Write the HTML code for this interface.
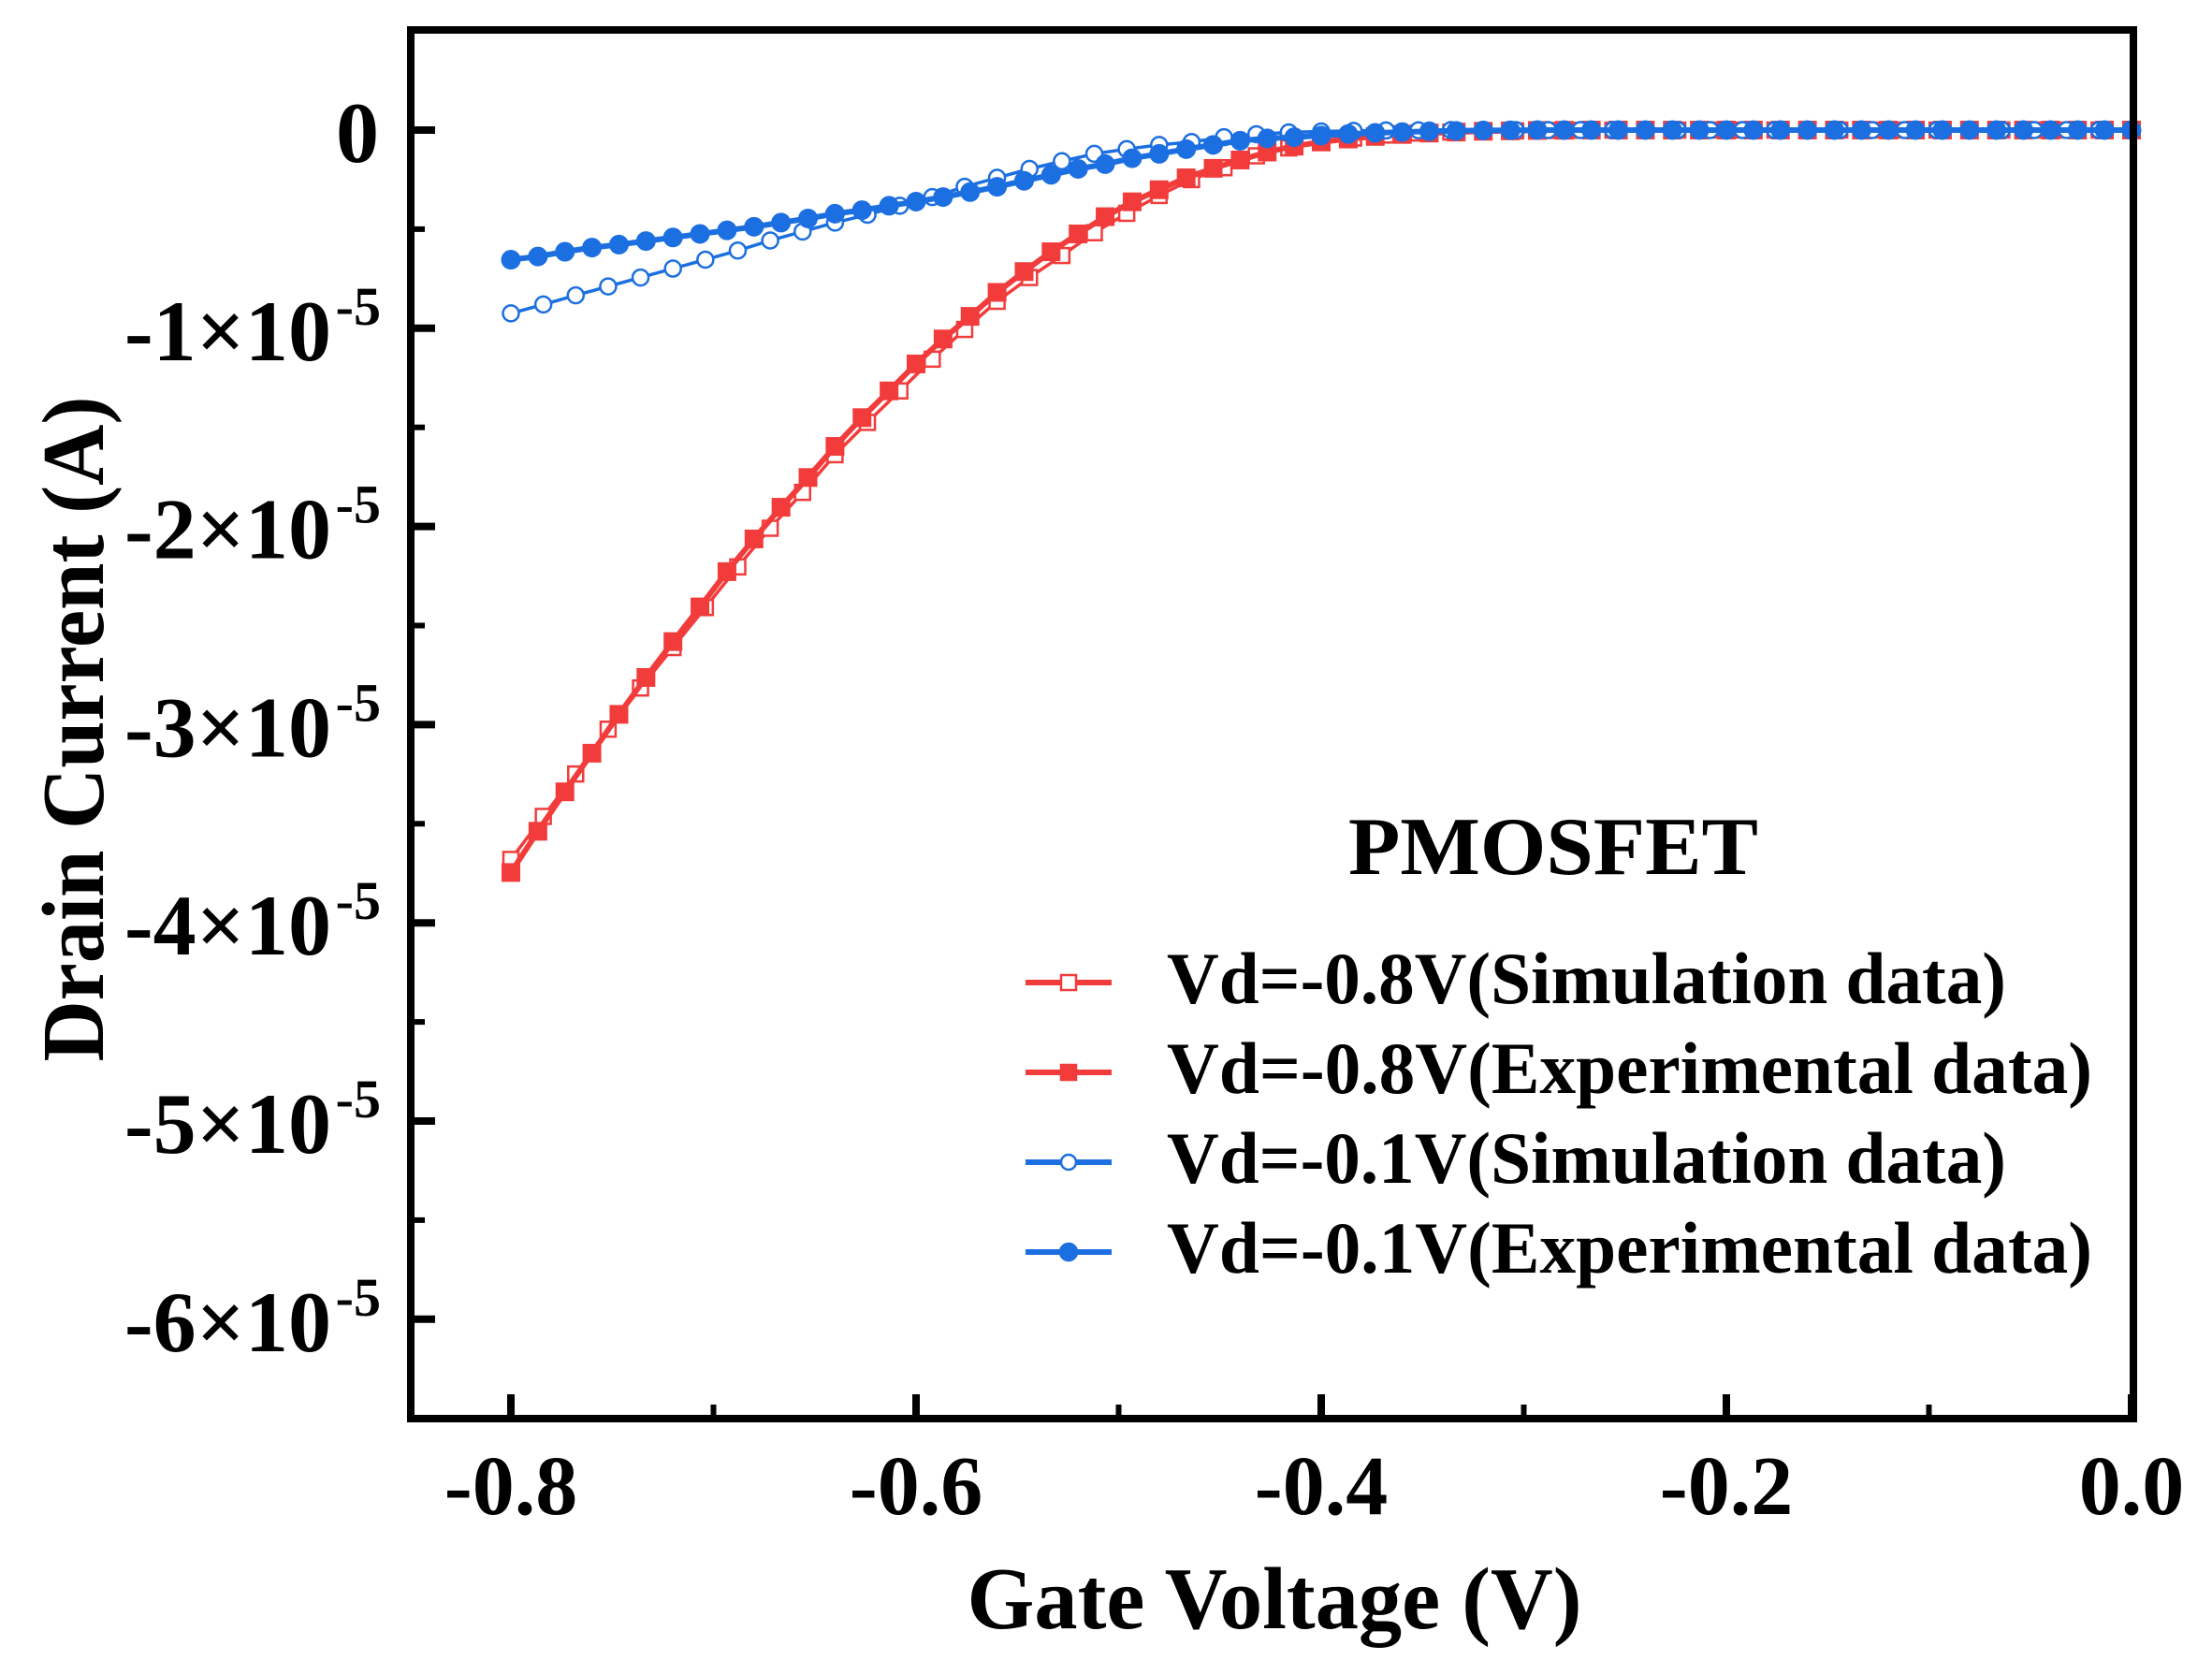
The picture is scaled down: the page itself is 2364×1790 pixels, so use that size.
<!DOCTYPE html>
<html><head><meta charset="utf-8"><style>
html,body{margin:0;padding:0;background:#fff;}
svg{display:block;font-family:"Liberation Serif",serif;font-weight:bold;}
</style></head><body>
<svg id="chart" width="2364" height="1790" viewBox="0 0 2364 1790" xmlns="http://www.w3.org/2000/svg"></svg>
<script>
// ---- data ----
const expStart = -0.8, expStep = 0.8 / 60;
const simStart = -0.8, simStep = 0.016;
const redExp = [-3.746,-3.538,-3.339,-3.144,-2.948,-2.762,-2.581,-2.406,-2.228,-2.063,-1.903,-1.753,-1.596,-1.451,-1.316,-1.180,-1.054,-0.940,-0.819,-0.714,-0.614,-0.524,-0.437,-0.362,-0.301,-0.241,-0.193,-0.151,-0.111,-0.081,-0.060,-0.045,-0.032,-0.022,-0.015,-0.010,-0.006,-0.004,-0.002,-0.001,0,0,0,0,0,0,0,0,0,0,0,0,0,0,0,0,0,0,0,0,0];
const redSim = [-3.68,-3.463,-3.249,-3.023,-2.815,-2.611,-2.409,-2.204,-2.009,-1.828,-1.638,-1.475,-1.316,-1.156,-1.006,-0.864,-0.744,-0.633,-0.518,-0.42,-0.33,-0.25,-0.19,-0.13,-0.09,-0.06,-0.04,-0.025,-0.015,-0.01,-0.006,-0.004,-0.002,-0.001,0,0,0,0,0,0,0,0,0,0,0,0,0,0,0,0,0];
const blueExp = [-0.654,-0.638,-0.614,-0.593,-0.578,-0.560,-0.542,-0.524,-0.506,-0.488,-0.467,-0.446,-0.422,-0.404,-0.382,-0.361,-0.338,-0.313,-0.286,-0.256,-0.226,-0.196,-0.172,-0.142,-0.120,-0.096,-0.075,-0.054,-0.042,-0.036,-0.028,-0.020,-0.014,-0.010,-0.006,-0.004,-0.002,-0.001,0,0,0,0,0,0,0,0,0,0,0,0,0,0,0,0,0,0,0,0,0,0,0];
const blueSim = [-0.925,-0.880,-0.834,-0.789,-0.744,-0.699,-0.654,-0.608,-0.557,-0.512,-0.467,-0.427,-0.382,-0.338,-0.286,-0.241,-0.196,-0.157,-0.120,-0.096,-0.075,-0.060,-0.036,-0.021,-0.012,-0.007,-0.004,-0.002,-0.001,0,0,0,0,0,0,0,0,0,0,0,0,0,0,0,0,0,0,0,0,0,0];
const xTicks = [-0.8,-0.6,-0.4,-0.2,0.0];
const xTickLabels = ["-0.8","-0.6","-0.4","-0.2","0.0"];
const xMinor = [-0.7,-0.5,-0.3,-0.1];
const yTicks = [0,-1,-2,-3,-4,-5,-6];
const yTickMant = ["0","-1×10","-2×10","-3×10","-4×10","-5×10","-6×10"];
const yMinor = [-0.5,-1.5,-2.5,-3.5,-4.5,-5.5];
const legendLabels = ["Vd=-0.8V(Simulation data)","Vd=-0.8V(Experimental data)","Vd=-0.1V(Simulation data)","Vd=-0.1V(Experimental data)"];

const RED = "#f23c3c", BLUE = "#1c6fe0";
const L = 439, R = 2280, T = 32, B = 1516;
const X = v => 2278 + v * 2165;
const Y = v => 139 - v * 211.8;
const NS = "http://www.w3.org/2000/svg";
const svg = document.getElementById('chart');
function mk(tag, attrs, parent) {
  const e = document.createElementNS(NS, tag);
  for (const k in attrs) e.setAttribute(k, attrs[k]);
  (parent || svg).appendChild(e);
  return e;
}

function series(vals, start, step, color, lw, marker, filled, name) {
  const g = mk('g', {});
  
  
  const pts = vals.map((v, i) => X(start + i * step).toFixed(1) + ',' + Y(v).toFixed(1)).join(' ');
  const pl = mk('polyline', {points: pts, fill: 'none', stroke: color, 'stroke-width': lw, 'stroke-linejoin': 'round'}, g);
  
  
  vals.forEach((v, i) => {
    const cx = X(start + i * step), cy = Y(v);
    let m;
    if (marker === 'circle') {
      m = mk('circle', {cx: cx, cy: cy, r: filled ? 10 : 8.5, fill: filled ? color : '#fff', stroke: color, 'stroke-width': filled ? 1 : 2.5}, g);
    } else {
      const s = filled ? 19 : 16;
      m = mk('rect', {x: cx - s/2, y: cy - s/2, width: s, height: s, fill: filled ? color : '#fff', stroke: color, 'stroke-width': filled ? 1 : 2.5}, g);
    }
    
    
  });
}
series(redSim, simStart, simStep, RED, 3.5, 'square', false, 'series-red-simulation');
series(redExp, expStart, expStep, RED, 6, 'square', true, 'series-red-experimental');
series(blueSim, simStart, simStep, BLUE, 3.5, 'circle', false, 'series-blue-simulation');
series(blueExp, expStart, expStep, BLUE, 6, 'circle', true, 'series-blue-experimental');

const fr = mk('rect', {x: L, y: T, width: R - L, height: B - T, fill: 'none', stroke: '#000', 'stroke-width': 8});



xTicks.forEach((v, i) => {
  const t = mk('line', {x1: X(v), x2: X(v), y1: B, y2: B - 26, stroke: '#000', 'stroke-width': 8});
  
  
  const tx = mk('text', {x: X(v), y: 1618, 'font-size': 90, 'text-anchor': 'middle'});
  tx.textContent = xTickLabels[i];
  
  
});
xMinor.forEach(v => {
  const t = mk('line', {x1: X(v), x2: X(v), y1: B, y2: B - 15, stroke: '#000', 'stroke-width': 6});
  
  
});
yTicks.forEach((v, i) => {
  const t = mk('line', {x1: L, x2: L + 26, y1: Y(v), y2: Y(v), stroke: '#000', 'stroke-width': 8});
  
  
  const tx = mk('text', {x: v === 0 ? 405 : 354, y: Y(v) + 34, 'font-size': 92, 'text-anchor': 'end'});
  tx.textContent = yTickMant[i];
  
  
  if (v !== 0) {
    const sp = mk('text', {x: 407, y: Y(v) - 4, 'font-size': 58, 'text-anchor': 'end'});
    sp.textContent = '-5';
    
    
  }
});
yMinor.forEach(v => {
  const t = mk('line', {x1: L, x2: L + 15, y1: Y(v), y2: Y(v), stroke: '#000', 'stroke-width': 6});
  
  
});

const xt = mk('text', {x: 1362, y: 1740, 'font-size': 94, 'text-anchor': 'middle', textLength: 657, lengthAdjust: 'spacingAndGlyphs'});
xt.textContent = 'Gate Voltage (V)';


const yt = mk('text', {x: 0, y: 0, 'font-size': 94, 'text-anchor': 'middle', textLength: 711, lengthAdjust: 'spacingAndGlyphs', transform: 'translate(110,779) rotate(-90)'});
yt.textContent = 'Drain Current (A)';



const lt = mk('text', {x: 1660, y: 934, 'font-size': 88, 'text-anchor': 'middle', textLength: 438, lengthAdjust: 'spacingAndGlyphs'});
lt.textContent = 'PMOSFET';


const legColors = [RED, RED, BLUE, BLUE];
const legMarker = ['square', 'square', 'circle', 'circle'];
const legFilled = [false, true, false, true];
const legBase = [1072, 1168, 1264, 1360];
const legWidth = [897, 989, 897, 989];
legendLabels.forEach((lab, i) => {
  const g = mk('g', {});
  
  
  const cy = legBase[i] - 22;
  mk('line', {x1: 1096, x2: 1188, y1: cy, y2: cy, stroke: legColors[i], 'stroke-width': 6}, g);
  if (legMarker[i] === 'circle') {
    mk('circle', {cx: 1142, cy: cy, r: legFilled[i] ? 9 : 8, fill: legFilled[i] ? legColors[i] : '#fff', stroke: legColors[i], 'stroke-width': 2.5}, g);
  } else {
    mk('rect', {x: 1134, y: cy - 8, width: 16, height: 16, fill: legFilled[i] ? legColors[i] : '#fff', stroke: legColors[i], 'stroke-width': 2.5}, g);
  }
  const t = mk('text', {x: 1247, y: legBase[i], 'font-size': 78, textLength: legWidth[i], lengthAdjust: 'spacingAndGlyphs'}, g);
  t.textContent = lab;
});
</script>
</body></html>
